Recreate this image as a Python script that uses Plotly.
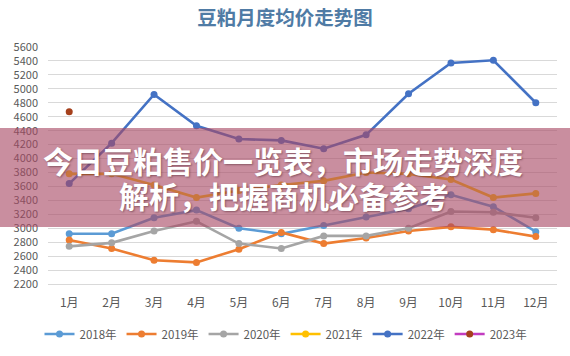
import plotly.graph_objects as go

months = ["1月", "2月", "3月", "4月", "5月", "6月", "7月", "8月", "9月", "10月", "11月", "12月"]

y2018 = [2920, 2920, 3150, 3260, 3000, 2920, 3040, 3160, 3280, 3480, 3310, 2950]
y2019 = [2830, 2710, 2540, 2510, 2700, 2940, 2780, 2860, 2960, 3020, 2980, 2880]
y2020 = [2740, 2790, 2960, 3100, 2780, 2710, 2890, 2890, 3000, 3240, 3230, 3150]
y2021 = [3780, 3780, 3620, 3440, 3540, 3620, 3680, 3800, 3780, 3700, 3440, 3500]
y2022 = [3640, 4220, 4920, 4470, 4280, 4260, 4140, 4340, 4930, 5370, 5410, 4800]
y2023 = [4670, None, None, None, None, None, None, None, None, None, None, None]

series_names = ["2018年", "2019年", "2020年", "2021年", "2022年", "2023年"]
series_values = [y2018, y2019, y2020, y2021, y2022, y2023]
line_colors = ["#5B9BD5", "#ED7D31", "#A5A5A5", "#FFC000", "#4472C4", "#C23CC0"]
marker_colors = ["#5B9BD5", "#ED7D31", "#A5A5A5", "#FFC000", "#4472C4", "#A5401C"]

title_text = "豆粕月度均价走势图"
banner_line1 = "今日豆粕售价一览表，市场走势深度"
banner_line2 = "解析，把握商机必备参考"

FONT = "Noto Sans CJK SC"

L, R, T, B = 48, 13, 47, 72
W, H = 570, 356
PW, PH = W - L - R, H - T - B


def px(x):
    return (x - L) / PW


def py(y):
    return (H - B - y) / PH


fig = go.Figure()
for name, vals, lc, mc in zip(series_names, series_values, line_colors, marker_colors):
    fig.add_trace(go.Scatter(
        x=months, y=vals, name=name, mode="lines+markers",
        line=dict(color=lc, width=2.6),
        marker=dict(color=mc, size=7),
        connectgaps=False,
    ))

fig.update_layout(
    width=W, height=H,
    margin=dict(l=L, r=R, t=T, b=B, autoexpand=False),
    paper_bgcolor="white", plot_bgcolor="white",
    font=dict(family=FONT, color="#595959", size=11),
    showlegend=True,
    legend=dict(orientation="h", x=286 / W, xref="container", xanchor="center",
                y=1 - 334 / H, yref="container", yanchor="middle",
                font=dict(size=11.5, color="#595959"), itemwidth=30, tracegroupgap=0),
    title=dict(text="<b>" + title_text + "</b>", x=0.5, xanchor="center", y=1 - 18 / H, yanchor="middle",
               font=dict(family=FONT, size=19.5, color="#4F7BA5")),
)
fig.update_xaxes(type="category", range=[-0.5, 11.5], showgrid=False, showline=True,
                 linecolor="#D9D9D9", linewidth=1, ticks="", ticklabelstandoff=8,
                 tickfont=dict(size=12, color="#595959"))
fig.update_yaxes(range=[2200, 5600], tick0=2200, dtick=200, showgrid=True, gridcolor="#D9D9D9",
                 gridwidth=1, zeroline=False, showline=False, ticks="", ticklabelstandoff=9,
                 tickfont=dict(size=11, color="#595959"))

fig.add_shape(type="rect", xref="paper", yref="paper", x0=px(-20), x1=px(600),
              y0=py(227), y1=py(128),
              fillcolor="rgba(168, 72, 100, 0.62)", line=dict(width=0), layer="above")

shadow = "1px 1px 2px rgba(60,20,30,0.45)"
fig.add_annotation(text="<b>" + banner_line1 + "</b>", xref="paper", yref="paper",
                   x=px(283), y=py(160), showarrow=False,
                   xanchor="center", yanchor="middle",
                   font=dict(family=FONT, size=30, color="white", shadow=shadow))
fig.add_annotation(text="<b>" + banner_line2 + "</b>", xref="paper", yref="paper",
                   x=px(284), y=py(195), showarrow=False,
                   xanchor="center", yanchor="middle",
                   font=dict(family=FONT, size=30, color="white", shadow=shadow))

fig.write_html("out.html", config={"displayModeBar": False},
               post_script="document.body.style.margin='0';document.body.style.padding='0';")
